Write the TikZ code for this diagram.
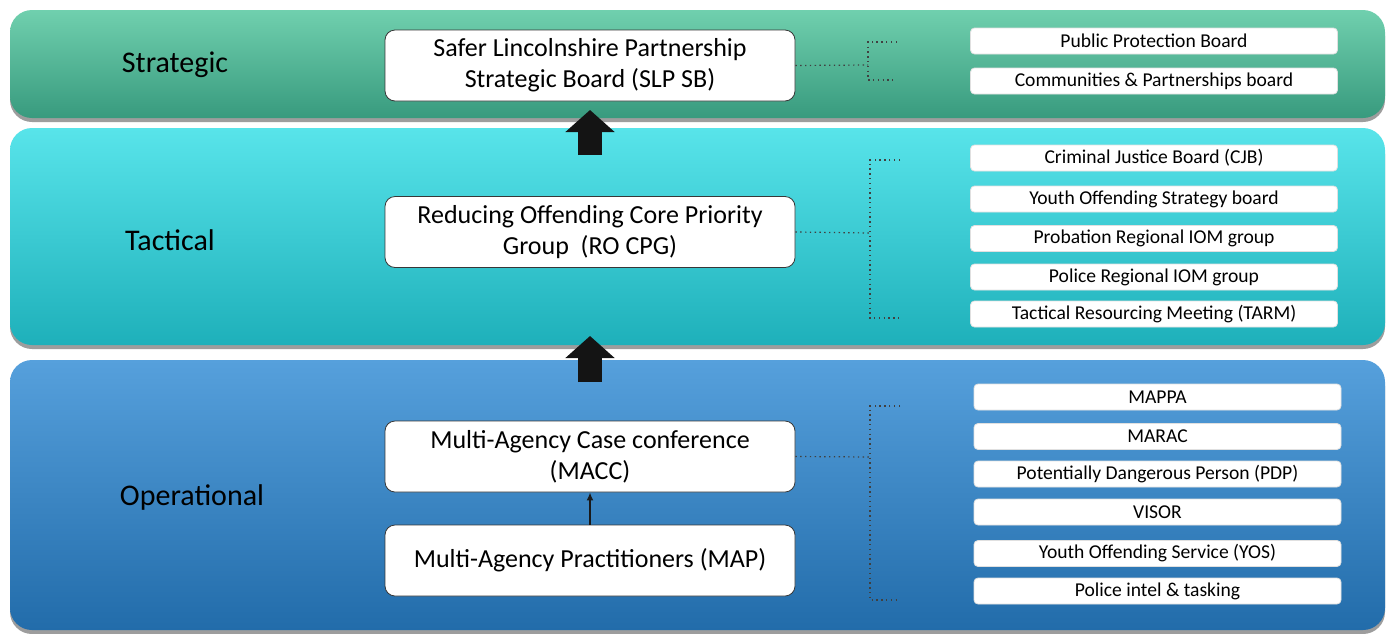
\documentclass[tikz,border=0pt]{standalone}
\usepackage{fontspec}
\setmainfont{Carlito}
\usetikzlibrary{arrows.meta,positioning,shadows}
\definecolor{strtop}{RGB}{112,208,174}
\definecolor{strbot}{RGB}{56,154,126}
\definecolor{tactop}{RGB}{88,228,234}
\definecolor{tacbot}{RGB}{30,176,186}
\definecolor{optop}{RGB}{86,160,220}
\definecolor{opbot}{RGB}{34,108,170}
\definecolor{boxline}{RGB}{55,55,55}
\tikzset{
  band/.style={rounded corners=11pt, minimum width=687.5pt,
    drop shadow={shadow xshift=0pt, shadow yshift=-2pt, opacity=.55, fill=black!70}},
  levellabel/.style={font=\fontsize{15}{17}\selectfont, text=black},
  mainbox/.style={draw=boxline, fill=white, rounded corners=5pt, align=center,
    minimum width=205pt, minimum height=35.5pt, font=\fontsize{13}{15.5}\selectfont},
  subbox/.style={draw=black!12, fill=white, rounded corners=2pt, inner sep=0pt,
    minimum width=183.5pt, minimum height=13pt, font=\fontsize{9.8}{11}\selectfont},
  dotline/.style={line width=0.6pt, black!75, dash pattern=on 0.7pt off 1.7pt},
  bigarrow/.style={line width=12pt, black!92, -{Triangle[width=24pt,length=11pt]}},
  smallarr/.style={-{Latex[length=4pt,width=3.5pt]}, line width=0.8pt, black!90}
}
\begin{document}
\begin{tikzpicture}[x=0.5pt,y=-0.5pt]
  \useasboundingbox (0,0) rectangle (1392,633);

  % level bands
  \node[band, minimum height=135pt, top color=optop, bottom color=opbot] (opband) at (697.5,495) {};
  \node[band, minimum height=108.5pt, top color=tactop, bottom color=tacbot] (tacband) at (697.5,236.5) {};
  \node[band, minimum height=54pt, top color=strtop, bottom color=strbot] (strband) at (697.5,64) {};

  \node[levellabel] (strlabel) at (175,65) {Strategic};
  \node[levellabel] (taclabel) at (170,240) {Tactical};
  \node[levellabel] (oplabel) at (192,497) {Operational};

  % main groups
  \node[mainbox] (slp) at (590,65.5) {Safer Lincolnshire Partnership\\Strategic Board (SLP SB)};
  \node[mainbox] (rocpg) at (590,232) {Reducing Offending Core Priority\\Group~~(RO CPG)};
  \node[mainbox] (macc) at (590,456.5) {Multi-Agency Case conference\\(MACC)};
  \node[mainbox] (map) at (590,560.5) {Multi-Agency Practitioners (MAP)};

  \draw[smallarr] (map.north) -- (macc.south);

  % block arrows between levels
  \coordinate (up1tail) at (590,155);
  \coordinate (up1tip) at (590,110);
  \coordinate (up2tail) at (590,382);
  \coordinate (up2tip) at (590,336);
  \draw[bigarrow] (up1tail) -- (up1tip);
  \draw[bigarrow] (up2tail) -- (up2tip);

  % linked boards
  \foreach \nm/\yy/\txt in {ppb/41/Public Protection Board,
      cpb/81/Communities \& Partnerships board,
      cjb/158/Criminal Justice Board (CJB),
      yosb/199/Youth Offending Strategy board,
      prob/238.5/Probation Regional IOM group,
      polr/277/Police Regional IOM group,
      tarm/314/Tactical Resourcing Meeting (TARM)}
    \node[subbox] (\nm) at (1154,\yy) {\txt};
  \foreach \nm/\yy/\txt in {mappa/397/MAPPA,
      marac/436.5/MARAC,
      pdp/474/Potentially Dangerous Person (PDP),
      visor/512/VISOR,
      yos/553.5/Youth Offending Service (YOS),
      intel/591/Police intel \& tasking}
    \node[subbox] (\nm) at (1157.5,\yy) {\txt};

  % dotted brackets
  \coordinate (sjoin) at (868,65);
  \coordinate (stop) at (897,42);
  \coordinate (sbot) at (893,80);
  \draw[dotline] (slp.east) -- (sjoin);
  \draw[dotline] (stop) -| (sjoin) |- (sbot);

  \coordinate (tjoin) at (870,233);
  \coordinate (ttop) at (900,160);
  \coordinate (tbot) at (900,318);
  \draw[dotline] (rocpg.east) -- (tjoin);
  \draw[dotline] (ttop) -| (tjoin) |- (tbot);

  \coordinate (ojoin) at (870,457);
  \coordinate (otop) at (900,406);
  \coordinate (obot) at (900,600);
  \draw[dotline] (macc.east) -- (ojoin);
  \draw[dotline] (otop) -| (ojoin) |- (obot);
\end{tikzpicture}
\end{document}
